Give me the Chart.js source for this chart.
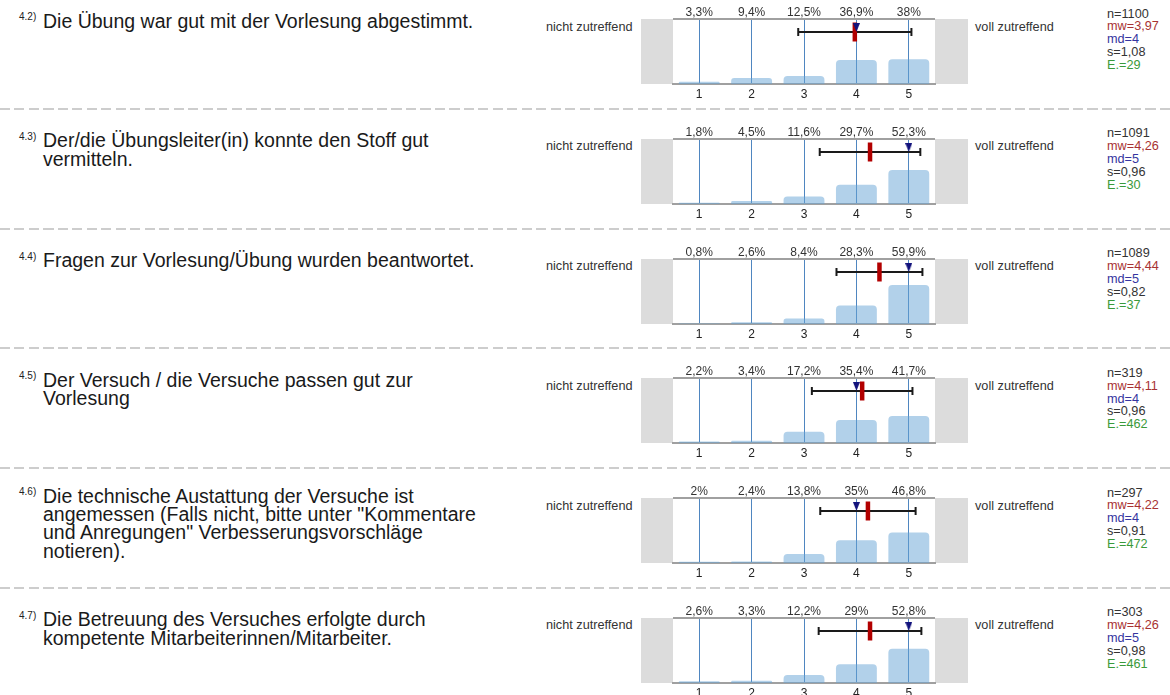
<!DOCTYPE html>
<html>
<head>
<meta charset="utf-8">
<script src="https://cdn.jsdelivr.net/npm/chart.js@4.4.1/dist/chart.umd.min.js"></script>
<style>
	body { margin: 0; background: #fff; font-family: "Liberation Sans", Arial, sans-serif; }
	#page { position: relative; width: 1170px; height: 695px; overflow: hidden; }
	.num { position: absolute; left: 19px; font-size: 10px; color: #222; }
	.q { position: absolute; left: 43px; font-size: 19.5px; line-height: 18.4px; color: #1a1a1a; white-space: pre; }
	.lbl { position: absolute; font-size: 12.7px; line-height: 13px; color: #333; white-space: nowrap; }
	.stats { position: absolute; left: 1107px; font-size: 12.7px; line-height: 12.9px; white-space: nowrap; }
	.sep { position: absolute; left: 0; width: 1170px; height: 2px;
		background: repeating-linear-gradient(to right, #cdcdcd 0 10px, transparent 10px 14.5px); }
	canvas { position: absolute; }
</style>
</head>
<body>
<div id="page"></div>
<script>
// answer scale 1..5
const answerScale = [1, 2, 3, 4, 5];

const itemNumbers = ['4.2)', '4.3)', '4.4)', '4.5)', '4.6)', '4.7)'];
const itemTexts = [
	'Die Übung war gut mit der Vorlesung abgestimmt.',
	'Der/die Übungsleiter(in) konnte den Stoff gut\nvermitteln.',
	'Fragen zur Vorlesung/Übung wurden beantwortet.',
	'Der Versuch / die Versuche passen gut zur\nVorlesung',
	'Die technische Austattung der Versuche ist\nangemessen (Falls nicht, bitte unter "Kommentare\nund Anregungen" Verbesserungsvorschläge\nnotieren).',
	'Die Betreuung des Versuches erfolgte durch\nkompetente Mitarbeiterinnen/Mitarbeiter.'
];

// percent of answers per scale value, one list per item
const pct42 = [3.3, 9.4, 12.5, 36.9, 38];
const pct43 = [1.8, 4.5, 11.6, 29.7, 52.3];
const pct44 = [0.8, 2.6, 8.4, 28.3, 59.9];
const pct45 = [2.2, 3.4, 17.2, 35.4, 41.7];
const pct46 = [2, 2.4, 13.8, 35, 46.8];
const pct47 = [2.6, 3.3, 12.2, 29, 52.8];
const percentages = [pct42, pct43, pct44, pct45, pct46, pct47];

const nValues = [1100, 1091, 1089, 319, 297, 303];
const meanValues = [3.97, 4.26, 4.44, 4.11, 4.22, 4.26];
const medianValues = [4, 5, 5, 4, 4, 5];
const stdDevs = [1.08, 0.96, 0.82, 0.96, 0.91, 0.98];
const abstentions = [29, 30, 37, 462, 472, 461];

const leftLabel = 'nicht zutreffend';
const rightLabel = 'voll zutreffend';

const ROW_PITCH = 119.75;
const MARK_Y = 80; // height of the mean / deviation marks, in % of the frame

const fmt = v => String(v).replace('.', ',');
const page = document.getElementById('page');

function addDiv(cls, left, top, text, color) {
	const d = document.createElement('div');
	d.className = cls;
	if (left !== null) d.style.left = left + 'px';
	d.style.top = top + 'px';
	if (color) d.style.color = color;
	d.textContent = text;
	page.appendChild(d);
	return d;
}

function triangleImage() {
	const c = document.createElement('canvas');
	c.width = 7; c.height = 18;
	const g = c.getContext('2d');
	g.fillStyle = '#12127c';
	g.beginPath();
	g.moveTo(0, 0); g.lineTo(7, 0); g.lineTo(3.5, 9);
	g.closePath(); g.fill();
	return c;
}
const medianMark = triangleImage();

const framePlugin = {
	id: 'frame',
	beforeDraw(chart) {
		const { ctx, chartArea: a, width } = chart;
		ctx.save();
		ctx.fillStyle = '#dcdcdc';
		ctx.fillRect(0, a.top, a.left, a.bottom - a.top);
		ctx.fillRect(a.right, a.top, width - a.right, a.bottom - a.top);
		ctx.restore();
	},
	afterDraw(chart) {
		const { ctx, chartArea: a } = chart;
		ctx.save();
		ctx.strokeStyle = '#a0a0a0';
		ctx.lineWidth = 2;
		ctx.beginPath(); ctx.moveTo(a.left, a.top); ctx.lineTo(a.right, a.top); ctx.stroke();
		const bars = chart.data.datasets.find(d => d.type === 'bar');
		ctx.fillStyle = '#333';
		ctx.font = '12px "Liberation Sans", Arial, sans-serif';
		ctx.textAlign = 'center';
		bars.data.forEach(p => {
			ctx.fillText(fmt(p.y) + '%', chart.scales.x.getPixelForValue(p.x), a.top - 3.5);
		});
		ctx.restore();
	}
};

function drawRow(i) {
	const top = i * ROW_PITCH;
	const lines = itemTexts[i].split('\n').length;
	const shift = lines > 2 ? -4 : 0;

	addDiv('num', null, top + 11 + shift, itemNumbers[i]);
	addDiv('q', null, top + 11.5 + shift, itemTexts[i]);
	addDiv('lbl', 546, top + 20.6, leftLabel);
	addDiv('lbl', 975, top + 20.6, rightLabel);

	const st = document.createElement('div');
	st.className = 'stats';
	st.style.top = (top + 7.5) + 'px';
	[['n=' + nValues[i], '#333'],
	 ['mw=' + fmt(meanValues[i]), '#a83232'],
	 ['md=' + fmt(medianValues[i]), '#3535a0'],
	 ['s=' + fmt(stdDevs[i]), '#333'],
	 ['E.=' + abstentions[i], '#3a9a3a']].forEach(([t, c]) => {
		const l = document.createElement('div');
		l.textContent = t; l.style.color = c;
		st.appendChild(l);
	});
	page.appendChild(st);

	if (i < itemTexts.length - 1) {
		const s = document.createElement('div');
		s.className = 'sep';
		s.style.top = (top + 107.8) + 'px';
		page.appendChild(s);
	}

	const cv = document.createElement('canvas');
	cv.width = 327; cv.height = 105;
	cv.style.left = '641px';
	cv.style.top = top + 'px';
	page.appendChild(cv);

	const m = meanValues[i], s = stdDevs[i];
	new Chart(cv, {
		type: 'bar',
		data: {
			datasets: [{
				type: 'line',
				data: [{ x: medianValues[i], y: MARK_Y }],
				showLine: false,
				pointStyle: medianMark,
				pointRadius: 5
			}, {
				type: 'line',
				data: [{ x: m, y: MARK_Y }],
				showLine: false,
				pointStyle: 'line',
				pointRotation: 90,
				pointRadius: 9.5,
				pointBorderWidth: 4.5,
				pointBorderColor: '#b20000'
			}, {
				type: 'line',
				data: [{ x: m - s, y: MARK_Y }, { x: m + s, y: MARK_Y }],
				borderColor: '#1a1a1a',
				borderWidth: 2,
				pointStyle: 'line',
				pointRotation: 90,
				pointRadius: 4,
				pointBorderWidth: 2,
				pointBorderColor: '#1a1a1a'
			}, {
				type: 'bar',
				data: answerScale.map((v, j) => ({ x: v, y: percentages[i][j] })),
				backgroundColor: 'rgba(102,163,214,0.5)',
				borderRadius: { topLeft: 4, topRight: 4 },
				borderSkipped: 'start',
				barPercentage: 0.78,
				categoryPercentage: 1
			}]
		},
		options: {
			responsive: false,
			animation: false,
			events: [],
			layout: { padding: { top: 19, left: 32, right: 33, bottom: 1 } },
			plugins: { legend: { display: false }, tooltip: { enabled: false } },
			scales: {
				x: {
					type: 'linear', min: 0.5, max: 5.5,
					offset: false,
					afterBuildTicks: sc => { sc.ticks = answerScale.map(v => ({ value: v })); },
					afterFit: sc => { sc.height = 20; },
					grid: { offset: false, color: '#4f86c0', lineWidth: 1, drawTicks: false },
					border: { color: '#a0a0a0', width: 2 },
					ticks: { padding: 3, color: '#222', font: { size: 12, family: '"Liberation Sans", Arial, sans-serif' } }
				},
				y: { display: false, min: 0, max: 100 }
			}
		},
		plugins: [framePlugin]
	});
}

itemTexts.forEach((t, i) => drawRow(i));
</script>
</body>
</html>
